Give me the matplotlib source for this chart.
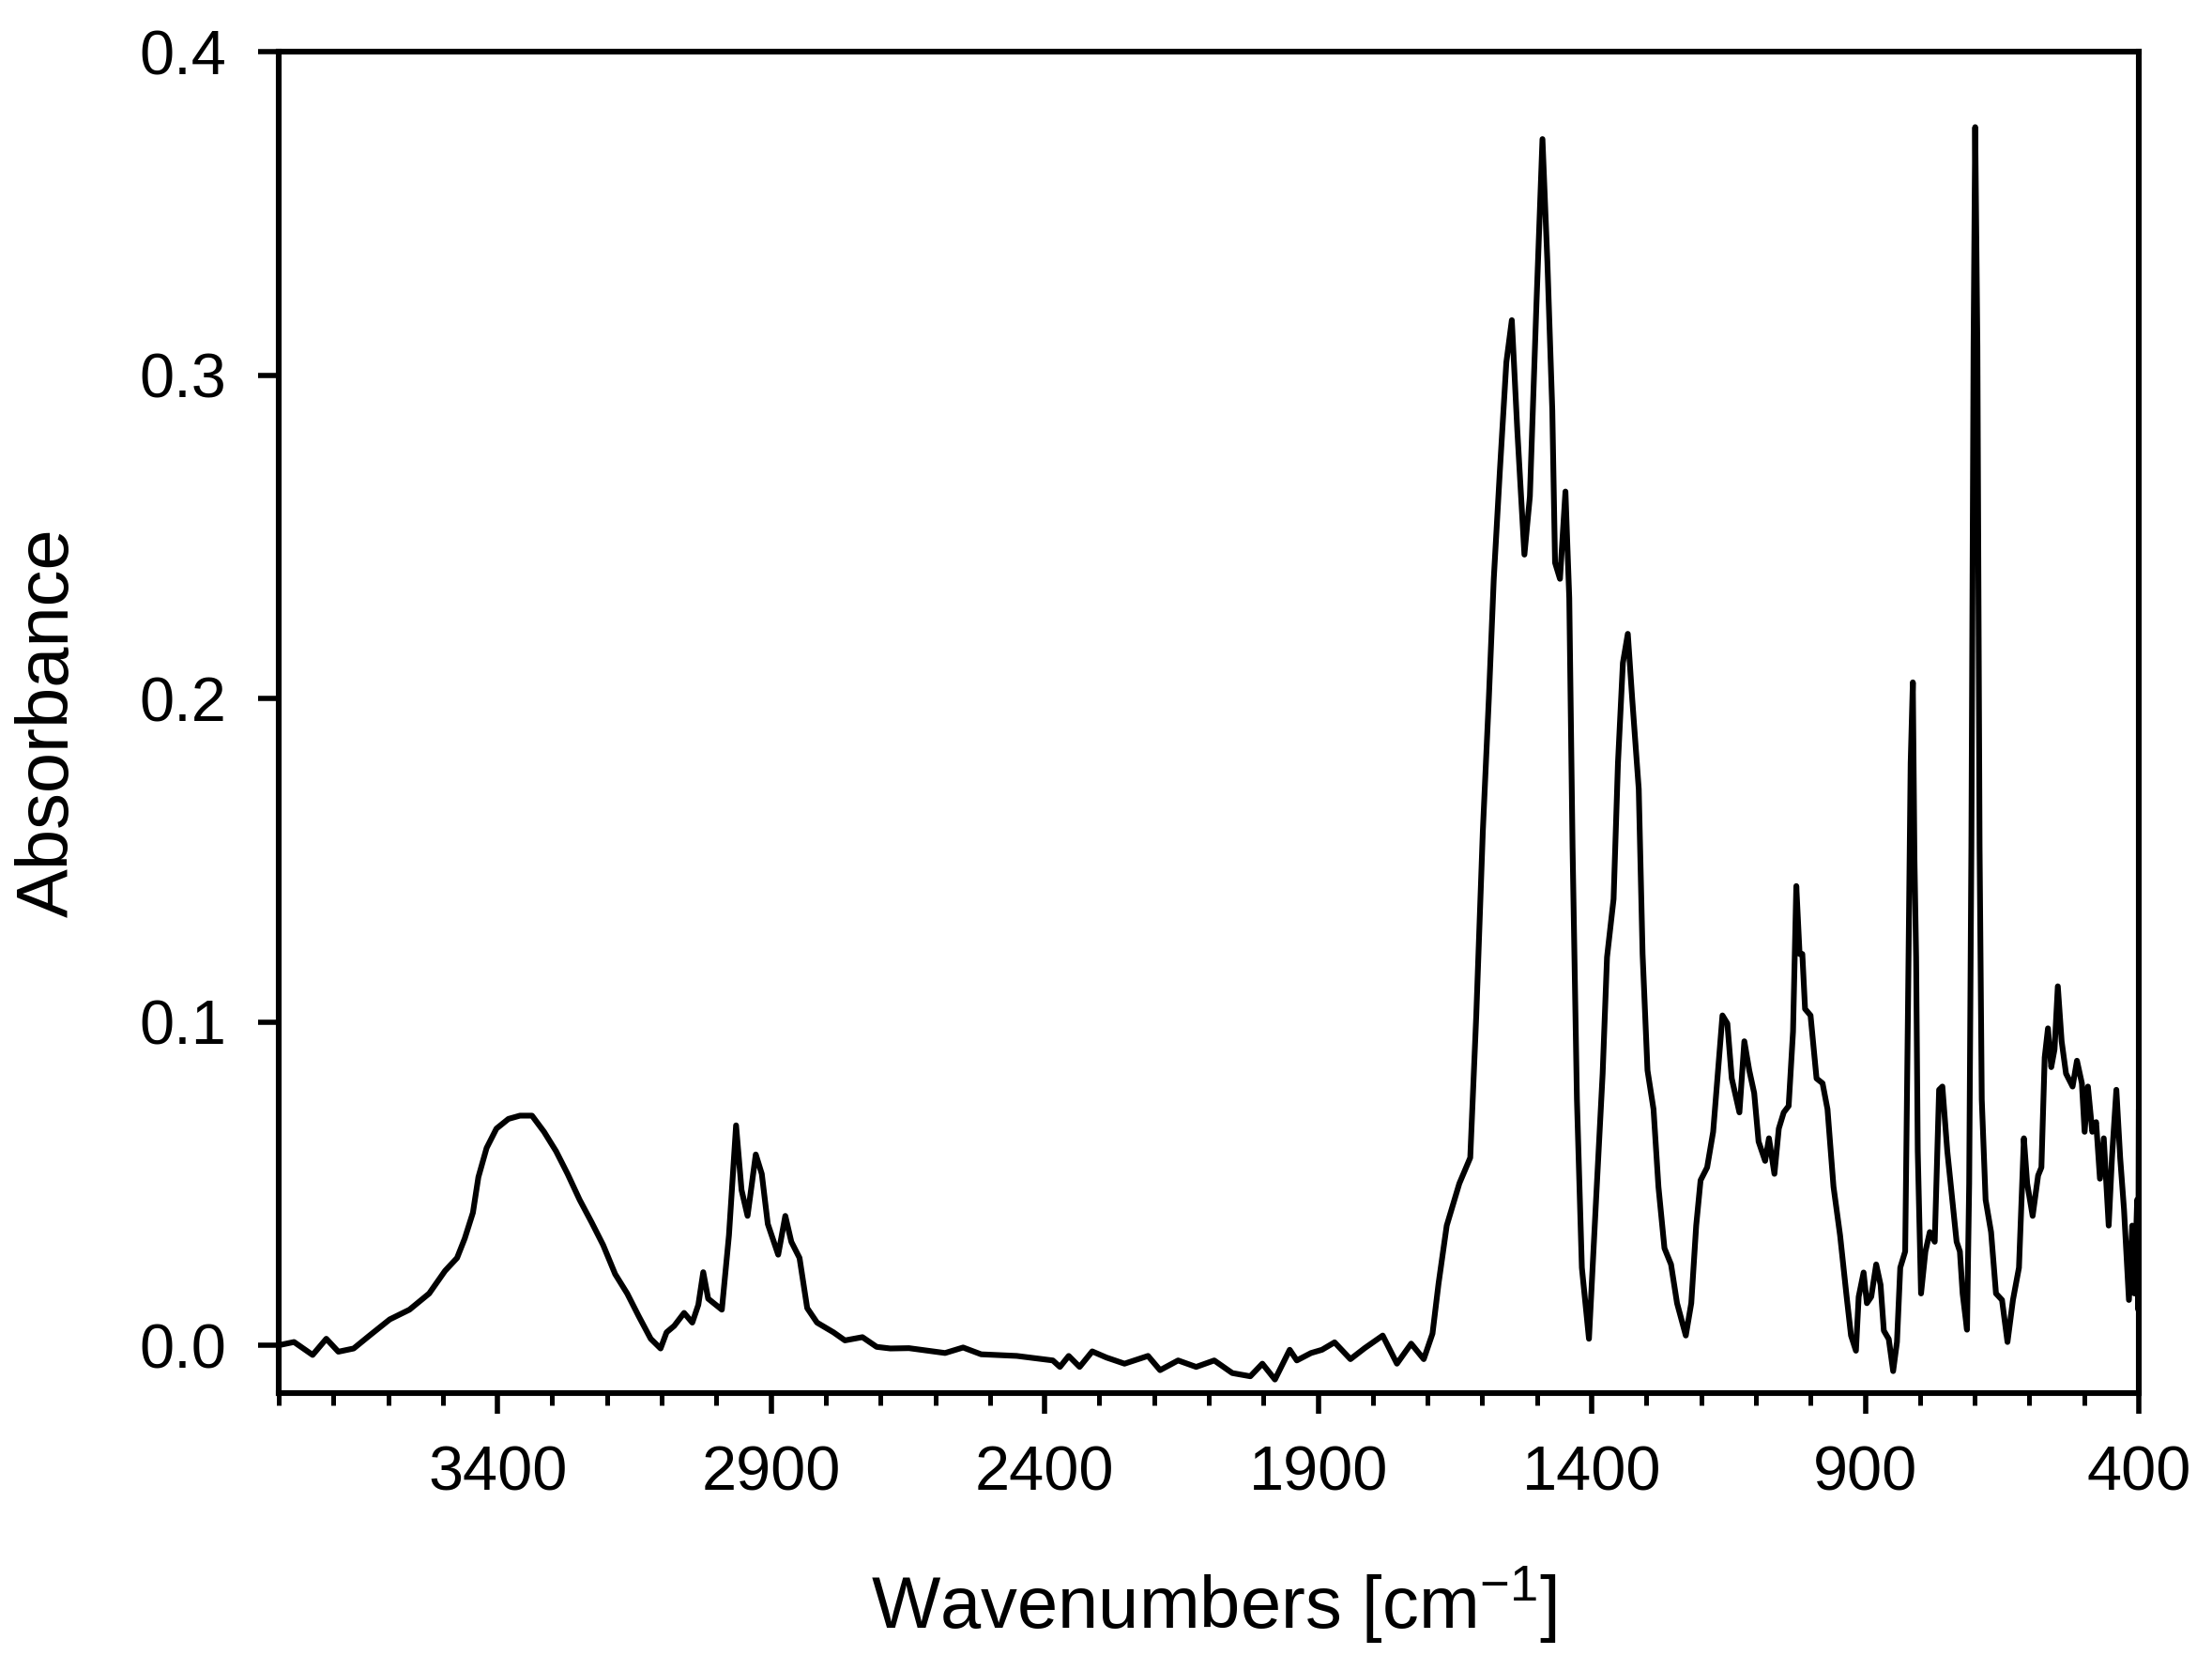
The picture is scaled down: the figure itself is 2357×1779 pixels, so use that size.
import numpy as np
import matplotlib
matplotlib.use("Agg")
import matplotlib.pyplot as plt
from matplotlib.ticker import MultipleLocator

plt.rcParams['font.family'] = ['Liberation Sans', 'DejaVu Sans']
plt.rcParams['mathtext.fontset'] = 'custom'
plt.rcParams['mathtext.rm'] = 'Liberation Sans'
plt.rcParams['mathtext.default'] = 'regular'

# O-H / C-H region
wn_high = [3800, 3772, 3738, 3713, 3691, 3663, 3634, 3597, 3561, 3525, 3496, 3474,
           3460, 3445, 3435, 3420, 3402, 3380, 3359, 3337, 3315, 3293, 3272, 3250,
           3228, 3207, 3185, 3163, 3142, 3120, 3102, 3091, 3077, 3059, 3044, 3033,
           3024, 3015, 2990, 2977, 2964, 2954, 2943, 2928, 2917, 2906, 2887, 2874,
           2863, 2848, 2834, 2816, 2786, 2765, 2733, 2707, 2682]
abs_high = [0.000, 0.001, -0.003, 0.002, -0.002, -0.001, 0.003, 0.008, 0.011, 0.016,
            0.023, 0.027, 0.033, 0.041, 0.052, 0.061, 0.067, 0.070, 0.071, 0.071,
            0.066, 0.060, 0.053, 0.045, 0.038, 0.031, 0.022, 0.016, 0.009, 0.002,
            -0.001, 0.004, 0.006, 0.010, 0.007, 0.0125, 0.0226, 0.0144, 0.011, 0.034,
            0.068, 0.048, 0.040, 0.059, 0.053, 0.0375, 0.028, 0.040, 0.032, 0.027,
            0.0115, 0.007, 0.004, 0.0015, 0.0025, -0.0005, -0.001]

# flat noisy baseline
wn_base = [2648, 2582, 2549, 2516, 2451, 2385, 2372, 2356, 2336, 2313, 2287, 2254,
           2211, 2189, 2156, 2123, 2090, 2057, 2024, 2002, 1979, 1952, 1939, 1913,
           1893, 1870, 1841, 1815, 1782, 1756, 1730, 1707]
abs_base = [-0.0009, -0.0024, -0.0007, -0.0028, -0.0033, -0.0047, -0.0067, -0.0033,
            -0.0067, -0.0019, -0.0038, -0.0057, -0.0033, -0.0077, -0.0047, -0.0067,
            -0.0047, -0.0086, -0.0096, -0.0057, -0.0106, -0.0014, -0.0047, -0.0024,
            -0.0014, 0.0009, -0.0043, -0.0009, 0.0030, -0.0057, 0.0005, -0.0043]

# carbonyl / carboxylate bands
wn_mid = [1691, 1680, 1665, 1642, 1622, 1611, 1599, 1588, 1579, 1568, 1556, 1546,
          1536, 1523, 1513, 1501, 1490, 1481, 1472, 1467, 1458, 1448, 1441, 1435,
          1427, 1418, 1405, 1392, 1380, 1372, 1360, 1352, 1343, 1334, 1326, 1314,
          1307, 1298, 1287, 1278, 1267, 1255]
abs_mid = [0.0036, 0.019, 0.037, 0.050, 0.058, 0.102, 0.159, 0.200, 0.237, 0.270,
           0.304, 0.317, 0.283, 0.2445, 0.2625, 0.322, 0.373, 0.335, 0.289, 0.242,
           0.237, 0.264, 0.231, 0.154, 0.076, 0.024, 0.002, 0.045, 0.084, 0.120,
           0.138, 0.180, 0.211, 0.220, 0.200, 0.172, 0.121, 0.085, 0.073, 0.049,
           0.030, 0.025]

# fingerprint region
wn_low = [1244, 1228, 1218, 1209, 1201, 1189, 1178, 1169, 1161, 1152, 1144, 1130,
          1121, 1112, 1103, 1095, 1083, 1076, 1066, 1058, 1049, 1040, 1032, 1026,
          1020, 1015, 1010, 1000, 989, 978, 969, 958, 946, 934, 926, 917, 912, 903,
          897, 889, 880, 872, 866, 857, 849, 842, 836, 827, 822, 817, 813, 810, 807,
          804, 798, 790, 782, 773, 765, 759, 750, 739, 733, 727, 722, 714, 710, 706,
          702, 699, 695, 691, 687, 680, 670, 661, 650, 640, 630, 619, 610, 604, 594,
          584, 578, 572, 566, 560, 554, 548, 541, 533, 521, 513, 504, 499, 493, 485,
          478, 471, 464, 455, 449, 441, 434, 427, 418, 412, 408, 403, 401, 400]
abs_low = [0.013, 0.003, 0.013, 0.037, 0.051, 0.055, 0.066, 0.085, 0.102, 0.0995,
           0.0825, 0.072, 0.094, 0.085, 0.078, 0.063, 0.057, 0.064, 0.053, 0.067,
           0.072, 0.074, 0.097, 0.142, 0.121, 0.121, 0.104, 0.102, 0.0825, 0.081,
           0.073, 0.049, 0.034, 0.015, 0.003, -0.0017, 0.015, 0.0225, 0.013, 0.015,
           0.025, 0.0187, 0.0045, 0.0019, -0.008, 0.001, 0.024, 0.029, 0.102, 0.180,
           0.205, 0.150, 0.120, 0.060, 0.016, 0.029, 0.035, 0.032, 0.079, 0.080,
           0.060, 0.042, 0.032, 0.029, 0.016, 0.0048, 0.050, 0.154, 0.309, 0.3767,
           0.309, 0.154, 0.076, 0.045, 0.035, 0.016, 0.014, 0.001, 0.014, 0.024,
           0.064, 0.050, 0.040, 0.0525, 0.055, 0.089, 0.098, 0.086, 0.0915, 0.111,
           0.094, 0.084, 0.080, 0.088, 0.081, 0.066, 0.080, 0.066, 0.069, 0.0515,
           0.064, 0.037, 0.058, 0.079, 0.058, 0.042, 0.014, 0.037, 0.016, 0.045,
           0.011, 0.072]

wn = np.array(wn_high + wn_base + wn_mid + wn_low)
absorb = np.array(abs_high + abs_base + abs_mid + abs_low)

fig = plt.figure(figsize=(11.785, 8.895), dpi=200)
ax = fig.add_axes([0.126, 0.166, 0.8409, 0.803])

ax.plot(wn, absorb, color='black', linewidth=2.2, solid_joinstyle='round')

ax.set_xlim(3800, 400)
ax.set_ylim(-0.0147, 0.4)
ax.set_xticks([3400, 2900, 2400, 1900, 1400, 900, 400])
ax.xaxis.set_minor_locator(MultipleLocator(100))
ax.set_yticks([0.0, 0.1, 0.2, 0.3, 0.4])
ax.set_yticklabels(['0.0', '0.1', '0.2', '0.3', '0.4'])

for side in ['left', 'right', 'top', 'bottom']:
    ax.spines[side].set_linewidth(2.2)

ax.tick_params(axis='both', which='major', direction='out', length=8, width=2.0,
               labelsize=24, pad=12)
ax.tick_params(axis='x', which='minor', direction='out', length=4.5, width=1.8)
ax.tick_params(top=False, right=False)

ax.set_xlabel('Wavenumbers [cm$^{-1}$]', fontsize=28)
ax.set_ylabel('Absorbance', fontsize=28)
ax.xaxis.set_label_coords(0.503, -0.128)
ax.yaxis.set_label_coords(-0.105, 0.5)

fig.savefig('out.png', dpi=200)
